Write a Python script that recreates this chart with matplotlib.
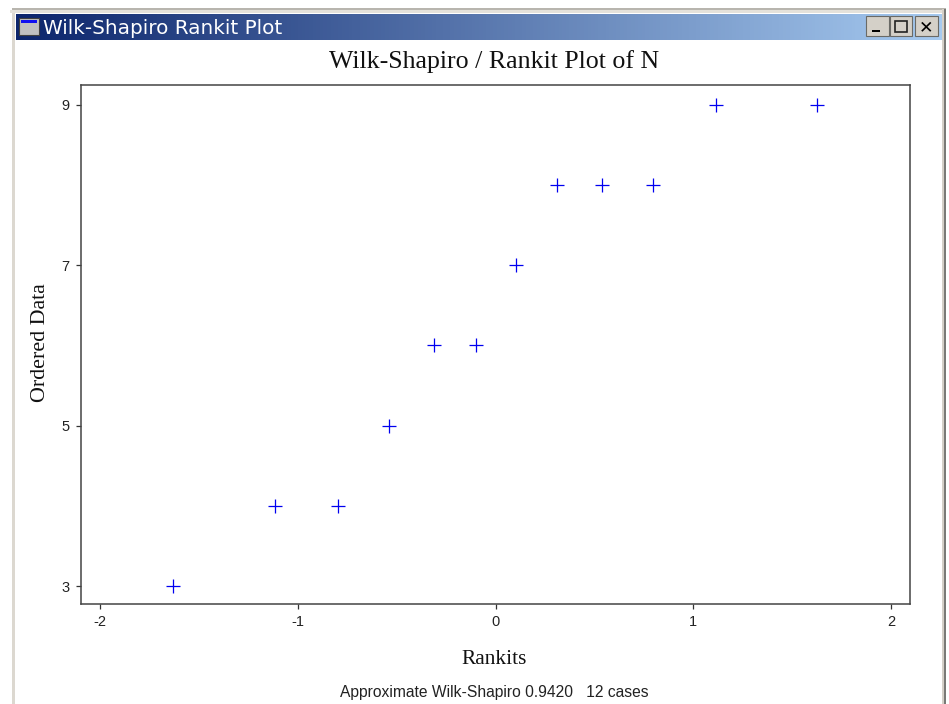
import numpy as np
import matplotlib
matplotlib.use('Agg')
import matplotlib.pyplot as plt
from matplotlib.patches import Rectangle

plt.rcParams['axes.unicode_minus'] = False

# valores
rankits = [-1.63, -1.115, -0.796, -0.539, -0.311, -0.099, 0.104, 0.311, 0.539, 0.796, 1.115, 1.626]
ordered = [3, 4, 4, 5, 6, 6, 7, 8, 8, 8, 9, 9]
x_ticks = [-2, -1, 0, 1, 2]
y_ticks = [3, 5, 7, 9]

W, H = 949, 704
fig = plt.figure(figsize=(W / 100, H / 100), dpi=100, facecolor='white')

# --- marco de la ventana, en pixeles ---
bg = fig.add_axes([0, 0, 1, 1])
bg.set_xlim(0, W)
bg.set_ylim(H, 0)
bg.axis('off')

bg.add_patch(Rectangle((12, 9), 3, H - 9, facecolor='#dcd8d0', edgecolor='none'))
bg.add_patch(Rectangle((12, 8), 934, 2, facecolor='#b8b5ae', edgecolor='none'))
bg.add_patch(Rectangle((10, 10), 936, 3, facecolor='#e4e1da', edgecolor='none'))
bg.add_patch(Rectangle((942, 9), 2, H - 9, facecolor='#d4d0c8', edgecolor='none'))
bg.add_patch(Rectangle((944, 9), 2, H - 9, facecolor='#7a7a76', edgecolor='none'))

# barra de titulo con degradado
grad = np.linspace(0, 1, 256).reshape(1, -1, 1)
start = np.array([0x0c, 0x25, 0x6c]) / 255
end = np.array([0xa6, 0xca, 0xf0]) / 255
bg.imshow(start + grad * (end - start), extent=(16, 942, 40, 14), aspect='auto', zorder=1)
bg.set_xlim(0, W)
bg.set_ylim(H, 0)

# icono de la ventana
bg.add_patch(Rectangle((19, 18), 20, 17, facecolor='#c0c0c0', edgecolor='#404040', lw=0.8, zorder=2))
bg.add_patch(Rectangle((21, 20), 16, 3, facecolor='#1010f0', edgecolor='none', zorder=3))
bg.text(43, 28, 'Wilk-Shapiro Rankit Plot', color='white', fontsize=14.4, family='DejaVu Sans',
        va='center', ha='left', zorder=3)

# botones
for bx, bw in [(866, 23), (890, 22), (915, 23)]:
    bg.add_patch(Rectangle((bx, 16), bw, 20, facecolor='#d4d0c8', edgecolor='#6a6a66', lw=0.8, zorder=2))
bg.add_patch(Rectangle((872, 30), 8, 2, facecolor='black', edgecolor='none', zorder=3))
bg.add_patch(Rectangle((895, 21), 12, 11, facecolor='none', edgecolor='#222222', lw=1.2, zorder=3))
bg.text(926.5, 27, '\u2715', color='black', fontsize=12.5, fontweight='bold', family='DejaVu Sans',
        ha='center', va='center', zorder=3)

# --- grafico ---
ax = fig.add_axes([81 / W, 1 - 604 / H, (910 - 81) / W, (604 - 85) / H])
ax.patch.set_alpha(0)
ax.plot(rankits, ordered, linestyle='none', marker='+', color='#0000f0', markersize=10, markeredgewidth=0.9)
ax.set_xlim(-2.096, 2.096)
ax.set_ylim(2.776, 9.246)
ax.set_xticks(x_ticks)
ax.set_yticks(y_ticks)
ax.tick_params(length=3.6, width=0.9, color='#333333', pad=4.5)
for lab in ax.get_xticklabels() + ax.get_yticklabels():
    lab.set_family('Liberation Sans')
    lab.set_fontsize(10.5)
    lab.set_color('#222222')
for s in ax.spines.values():
    s.set_linewidth(1.1)
    s.set_color('#444444')

serif = 'Liberation Serif'
bg.text(494.5, 62, 'Wilk-Shapiro / Rankit Plot of N', fontsize=18.6, family=serif, ha='center', va='center', color='#111111')
bg.text(494.5, 660, 'Rankits', fontsize=15.4, family=serif, ha='center', va='center', color='#111111')
bg.text(41, 343, 'Ordered Data', fontsize=15.8, family=serif, rotation=90, ha='center', va='center', color='#111111')
bg.text(494.5, 692, 'Approximate Wilk-Shapiro 0.9420   12 cases', fontsize=11.25, family='Liberation Sans',
        ha='center', va='center', color='#222222')

fig.savefig('out.png', dpi=100)
